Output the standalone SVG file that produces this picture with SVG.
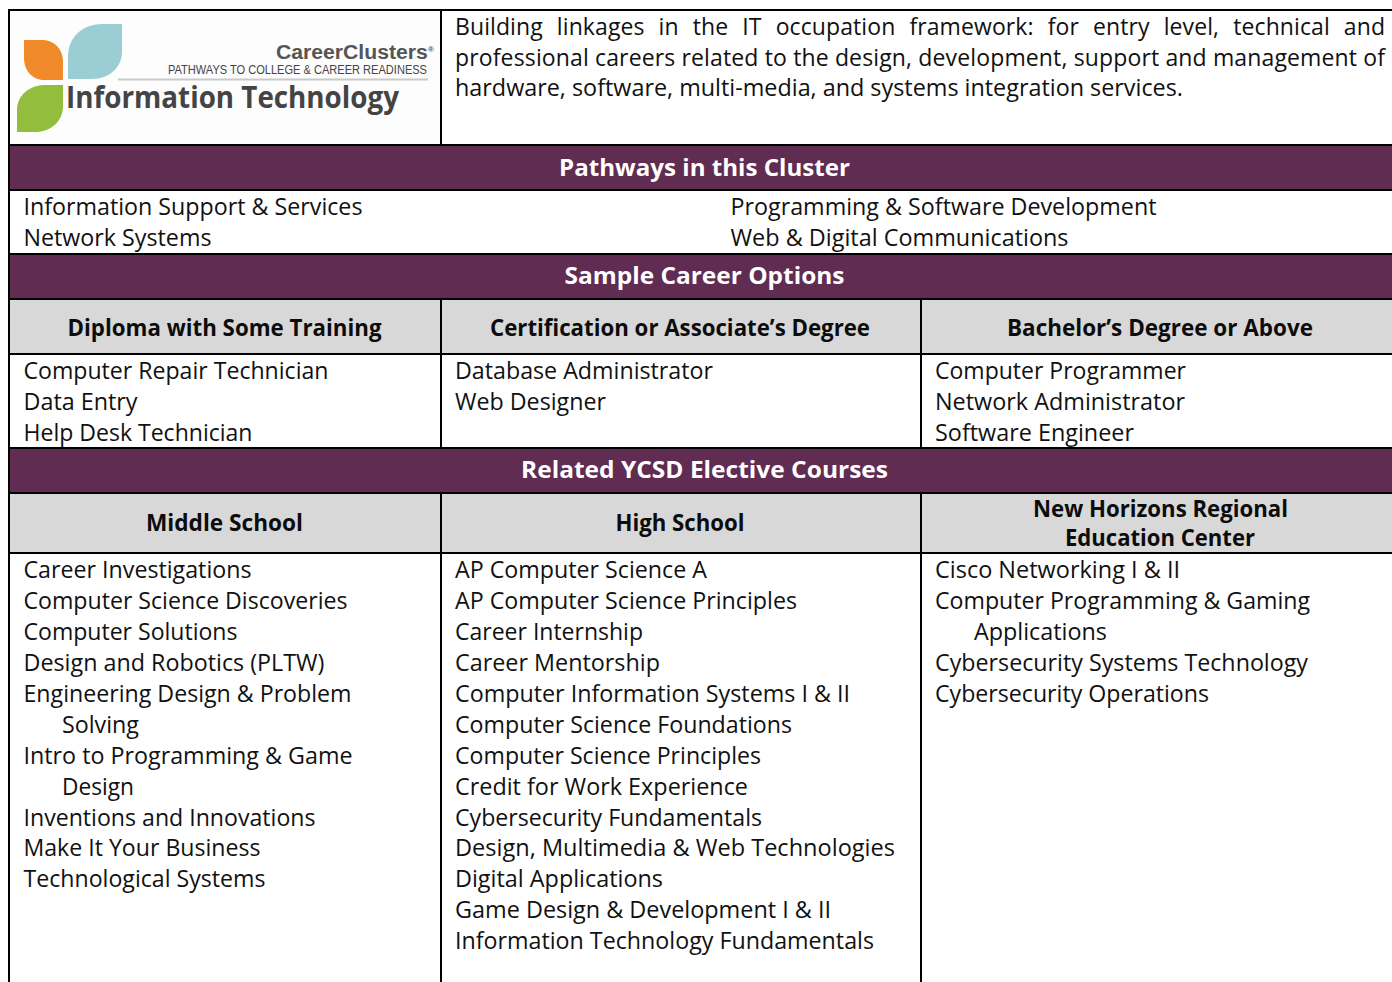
<svg xmlns="http://www.w3.org/2000/svg" width="1392" height="982" viewBox="0 0 1392 982">
<style>
text{font-family:"Open Sans","Noto Sans","Liberation Sans",sans-serif;font-size:23px;fill:#111;}
.b{font-weight:700;fill:#0c0c0c;text-anchor:middle}
.w{font-weight:700;fill:#fff;text-anchor:middle}
.bar{fill:#602c52}
.grey{fill:#d8d8d8}
.ln{stroke:#000;stroke-width:2;fill:none}
</style>
<rect width="1392" height="982" fill="#fff"/>
<g id="logo">
<rect x="10" y="11" width="430" height="133" fill="#fdfdfd"/>
<path d="M68 79V56C68 38 82 24 102 24H122V52C122 68 108 79 92 79Z" fill="#9bced4"/>
<path d="M24 40H42C55 40 63 50 63 62V80H44C32 80 24 70 24 58Z" fill="#f08a2a"/>
<path d="M17 132V110C17 95 30 85 45 85H63V106C63 122 50 132 35 132Z" fill="#93bd3d"/>
<rect x="118" y="78.500" width="310" height="2" fill="#c9c9c9"/>
<text x="276" y="58.500" font-weight="700" style="font-family:'Liberation Sans',sans-serif;font-size:20px;fill:#555" textLength="158" lengthAdjust="spacingAndGlyphs">CareerClusters<tspan dy="-7" style="font-size:8px">®</tspan></text>
<text x="168" y="74" style="font-family:'Liberation Sans',sans-serif;font-size:12px;fill:#444" textLength="259" lengthAdjust="spacingAndGlyphs">PATHWAYS TO COLLEGE &amp; CAREER READINESS</text>
<text x="66" y="108" font-weight="700" style="font-size:30px;fill:#444" textLength="333" lengthAdjust="spacingAndGlyphs">Information Technology</text>
</g>
<g id="bands">
<rect class="bar" x="10" y="146" width="1382" height="43"/>
<rect class="bar" x="10" y="255" width="1382" height="43"/>
<rect class="bar" x="10" y="449" width="1382" height="43"/>
<rect class="grey" x="10" y="300" width="1382" height="53"/>
<rect class="grey" x="10" y="494" width="1382" height="58"/>
</g>
<g id="grid" class="ln">
<path d="M9 10H1392M9 145H1392M9 190H1392M9 254H1392M9 299H1392M9 354H1392M9 448H1392M9 493H1392M9 553H1392"/>
<path d="M9 9V982M441 10V145M441 299V448M441 493V982M921 299V448M921 493V982"/>
</g>
<g id="intro">
<text x="455" y="35" textLength="930" lengthAdjust="spacing" style="word-spacing:8px">Building linkages in the IT occupation framework: for entry level, technical and</text>
<text x="455" y="66" textLength="930" lengthAdjust="spacing">professional careers related to the design, development, support and management of</text>
<text x="455" y="96" textLength="728" lengthAdjust="spacingAndGlyphs">hardware, software, multi-media, and systems integration services.</text>
</g>
<g id="heads">
<text class="w" x="704.500" y="176" textLength="291" lengthAdjust="spacingAndGlyphs">Pathways in this Cluster</text>
<text class="w" x="704.500" y="284" textLength="280" lengthAdjust="spacingAndGlyphs">Sample Career Options</text>
<text class="w" x="704.500" y="478" textLength="367" lengthAdjust="spacingAndGlyphs">Related YCSD Elective Courses</text>
<text class="b" x="224.500" y="336" textLength="314" lengthAdjust="spacingAndGlyphs">Diploma with Some Training</text>
<text class="b" x="680" y="336" textLength="380" lengthAdjust="spacingAndGlyphs">Certification or Associate’s Degree</text>
<text class="b" x="1160" y="336" textLength="306" lengthAdjust="spacingAndGlyphs">Bachelor’s Degree or Above</text>
<text class="b" x="224.500" y="531" textLength="157" lengthAdjust="spacingAndGlyphs">Middle School</text>
<text class="b" x="680" y="531" textLength="129" lengthAdjust="spacingAndGlyphs">High School</text>
<text class="b" x="1160.500" y="517" textLength="255" lengthAdjust="spacingAndGlyphs">New Horizons Regional</text>
<text class="b" x="1160" y="546" textLength="190" lengthAdjust="spacingAndGlyphs">Education Center</text>
</g>
<g id="pathways">
<text x="23.500" y="215" textLength="339" lengthAdjust="spacingAndGlyphs">Information Support &amp; Services</text>
<text x="23.500" y="246" textLength="188" lengthAdjust="spacingAndGlyphs">Network Systems</text>
<text x="730.500" y="215" textLength="426" lengthAdjust="spacingAndGlyphs">Programming &amp; Software Development</text>
<text x="730.500" y="246" textLength="338" lengthAdjust="spacingAndGlyphs">Web &amp; Digital Communications</text>
</g>
<g id="careers">
<text x="23.500" y="379" textLength="305" lengthAdjust="spacingAndGlyphs">Computer Repair Technician</text>
<text x="23.500" y="410" textLength="114" lengthAdjust="spacingAndGlyphs">Data Entry</text>
<text x="23.500" y="441" textLength="229" lengthAdjust="spacingAndGlyphs">Help Desk Technician</text>
<text x="455" y="379" textLength="258" lengthAdjust="spacingAndGlyphs">Database Administrator</text>
<text x="455" y="410" textLength="151" lengthAdjust="spacingAndGlyphs">Web Designer</text>
<text x="935" y="379" textLength="251" lengthAdjust="spacingAndGlyphs">Computer Programmer</text>
<text x="935" y="410" textLength="250" lengthAdjust="spacingAndGlyphs">Network Administrator</text>
<text x="935" y="441" textLength="199" lengthAdjust="spacingAndGlyphs">Software Engineer</text>
</g>
<g id="middle-school">
<text x="23.500" y="578" textLength="228" lengthAdjust="spacingAndGlyphs">Career Investigations</text>
<text x="23.500" y="609" textLength="324" lengthAdjust="spacingAndGlyphs">Computer Science Discoveries</text>
<text x="23.500" y="640" textLength="214" lengthAdjust="spacingAndGlyphs">Computer Solutions</text>
<text x="23.500" y="671" textLength="301" lengthAdjust="spacingAndGlyphs">Design and Robotics (PLTW)</text>
<text x="23.500" y="702" textLength="328" lengthAdjust="spacingAndGlyphs">Engineering Design &amp; Problem</text>
<text x="62" y="733" textLength="77" lengthAdjust="spacingAndGlyphs">Solving</text>
<text x="23.500" y="764" textLength="329" lengthAdjust="spacingAndGlyphs">Intro to Programming &amp; Game</text>
<text x="62" y="795" textLength="72" lengthAdjust="spacingAndGlyphs">Design</text>
<text x="23.500" y="826" textLength="292" lengthAdjust="spacingAndGlyphs">Inventions and Innovations</text>
<text x="23.500" y="856" textLength="237" lengthAdjust="spacingAndGlyphs">Make It Your Business</text>
<text x="23.500" y="887" textLength="242" lengthAdjust="spacingAndGlyphs">Technological Systems</text>
</g>
<g id="high-school">
<text x="455" y="578" textLength="252" lengthAdjust="spacingAndGlyphs">AP Computer Science A</text>
<text x="455" y="609" textLength="342" lengthAdjust="spacingAndGlyphs">AP Computer Science Principles</text>
<text x="455" y="640" textLength="188" lengthAdjust="spacingAndGlyphs">Career Internship</text>
<text x="455" y="671" textLength="205" lengthAdjust="spacingAndGlyphs">Career Mentorship</text>
<text x="455" y="702" textLength="395" lengthAdjust="spacingAndGlyphs">Computer Information Systems I &amp; II</text>
<text x="455" y="733" textLength="337" lengthAdjust="spacingAndGlyphs">Computer Science Foundations</text>
<text x="455" y="764" textLength="306" lengthAdjust="spacingAndGlyphs">Computer Science Principles</text>
<text x="455" y="795" textLength="293" lengthAdjust="spacingAndGlyphs">Credit for Work Experience</text>
<text x="455" y="826" textLength="307" lengthAdjust="spacingAndGlyphs">Cybersecurity Fundamentals</text>
<text x="455" y="856" textLength="440" lengthAdjust="spacingAndGlyphs">Design, Multimedia &amp; Web Technologies</text>
<text x="455" y="887" textLength="208" lengthAdjust="spacingAndGlyphs">Digital Applications</text>
<text x="455" y="918" textLength="376" lengthAdjust="spacingAndGlyphs">Game Design &amp; Development I &amp; II</text>
<text x="455" y="949" textLength="419" lengthAdjust="spacingAndGlyphs">Information Technology Fundamentals</text>
</g>
<g id="new-horizons">
<text x="935" y="578" textLength="245" lengthAdjust="spacingAndGlyphs">Cisco Networking I &amp; II</text>
<text x="935" y="609" textLength="375" lengthAdjust="spacingAndGlyphs">Computer Programming &amp; Gaming</text>
<text x="974" y="640" textLength="133" lengthAdjust="spacingAndGlyphs">Applications</text>
<text x="935" y="671" textLength="373" lengthAdjust="spacingAndGlyphs">Cybersecurity Systems Technology</text>
<text x="935" y="702" textLength="274" lengthAdjust="spacingAndGlyphs">Cybersecurity Operations</text>
</g>
</svg>
